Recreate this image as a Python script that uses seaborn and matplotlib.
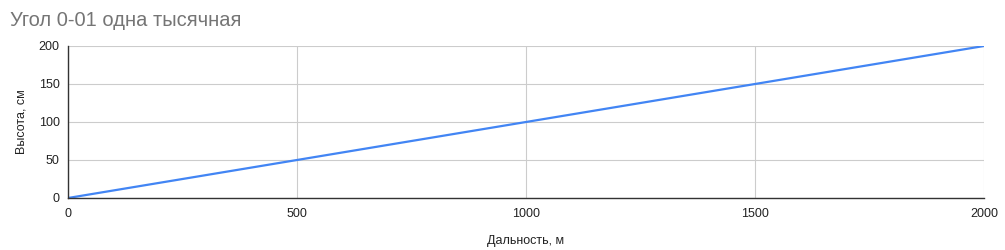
import matplotlib
matplotlib.use("Agg")
import matplotlib.pyplot as plt
import seaborn as sns
import pandas as pd

distance = [0, 500, 1000, 1500, 2000]
height = [0, 50, 100, 150, 200]
x_ticks = [0, 500, 1000, 1500, 2000]
y_ticks = [0, 50, 100, 150, 200]
title = "Угол 0-01 одна тысячная"
x_label = "Дальность, м"
y_label = "Высота, см"

sns.set_theme(style="white")
plt.rcParams['font.family'] = ['Liberation Sans', 'DejaVu Sans']

df = pd.DataFrame({"x": distance, "y": height})

fig = plt.figure(figsize=(10.05, 2.5), dpi=100)
ax = fig.add_axes([68/1005, 1-198/250, (984-68)/1005, (198-46)/250])
sns.lineplot(data=df, x="x", y="y", ax=ax, color="#4285F4", linewidth=1.6)

ax.set_xlim(0, 2000)
ax.set_ylim(0, 200)
ax.set_xticks(x_ticks)
ax.set_yticks(y_ticks)
ax.grid(True, color="#cccccc", linewidth=0.8)
ax.set_axisbelow(True)
ax.tick_params(axis="both", length=0, labelsize=9, colors="#222222", pad=6)
ax.tick_params(axis="x", pad=7)
for s in ["top", "right"]:
    ax.spines[s].set_visible(False)
for s in ["left", "bottom"]:
    ax.spines[s].set_color("#333333")
    ax.spines[s].set_linewidth(1.0)

ax.set_xlabel(x_label, fontsize=9, color="#222222", labelpad=11)
ax.set_ylabel(y_label, fontsize=9, color="#222222", labelpad=8)
fig.text(10/1005, 1-20/250, title, fontsize=14.5, color="#757575", ha="left", va="center")

fig.savefig("out.png", dpi=100)
